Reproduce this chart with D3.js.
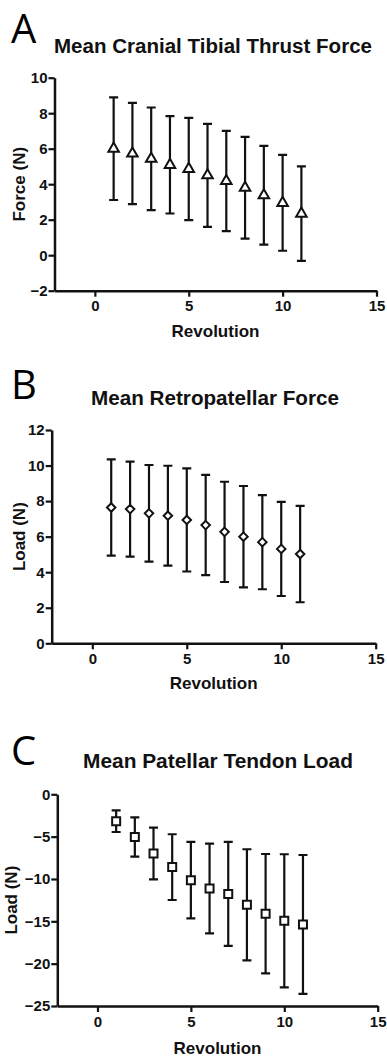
<!DOCTYPE html>
<html>
<head>
<meta charset="utf-8">
<script src="https://cdn.jsdelivr.net/npm/d3@7"></script>
<style>
  body { margin: 0; background: #fff; }
  svg { display: block; }
</style>
</head>
<body>
<div id="chart"></div>
<script>
const revolutions = [1, 2, 3, 4, 5, 6, 7, 8, 9, 10, 11];

// A: cranial tibial thrust force (N), mean and SD
const thrustMean = [6.0, 5.73, 5.43, 5.09, 4.86, 4.5, 4.18, 3.8, 3.38, 2.95, 2.34];
const thrustSD = [2.89, 2.85, 2.89, 2.74, 2.88, 2.9, 2.82, 2.87, 2.78, 2.7, 2.66];

// B: retropatellar force (N)
const retroMean = [7.64, 7.55, 7.31, 7.18, 6.94, 6.65, 6.27, 6.0, 5.69, 5.31, 5.02];
const retroSD = [2.71, 2.67, 2.72, 2.81, 2.9, 2.82, 2.82, 2.85, 2.65, 2.65, 2.71];

// C: patellar tendon load (N)
const tendonMean = [-3.17, -5.04, -6.99, -8.6, -10.14, -11.12, -11.77, -13.05, -14.1, -14.94, -15.37];
const tendonSD = [1.28, 2.32, 3.05, 3.88, 4.51, 5.3, 6.14, 6.56, 7.05, 7.86, 8.2];

const xTicks = [0, 5, 10, 15];
const thrustTicks = [-2, 0, 2, 4, 6, 8, 10];
const retroTicks = [0, 2, 4, 6, 8, 10, 12];
const tendonTicks = [-25, -20, -15, -10, -5, 0];

const width = 387, height = 1057;
const font = "'Liberation Sans', Arial, sans-serif";

const svg = d3.select("#chart").append("svg")
  .attr("width", width)
  .attr("height", height);

const panels = [
  {
    letter: "A", title: "Mean Cranial Tibial Thrust Force", yLabel: "Force (N)",
    mean: thrustMean, sd: thrustSD, yTicks: thrustTicks, symbol: d3.symbolTriangle, size: 48,
    left: 54.5, right: 376.5, top: 77.7, bottom: 290.7,
    letterY: 43, titleX: 213, titleY: 53, titleW: 318, yLabelX: 19, xLabelY: 337
  },
  {
    letter: "B", title: "Mean Retropatellar Force", yLabel: "Load (N)",
    mean: retroMean, sd: retroSD, yTicks: retroTicks, symbol: d3.symbolDiamond2, size: 46,
    left: 51.7, right: 375.7, top: 430, bottom: 643.3,
    letterY: 399, titleX: 215, titleY: 405, titleW: 248, yLabelX: 19, xLabelY: 689
  },
  {
    letter: "C", title: "Mean Patellar Tendon Load", yLabel: "Load (N)",
    mean: tendonMean, sd: tendonSD, yTicks: tendonTicks, symbol: d3.symbolSquare, size: 64,
    left: 57.3, right: 377.7, top: 794.3, bottom: 1006,
    letterY: 765, titleX: 218, titleY: 768, titleW: 270, yLabelX: 11, xLabelY: 1054
  }
];

panels.forEach(function (p) {
  const yMin = d3.min(p.yTicks), yMax = d3.max(p.yTicks);
  const x = d3.scaleLinear().domain([-2.15, 15]).range([p.left, p.right]);
  const y = d3.scaleLinear().domain([yMin, yMax]).range([p.bottom, p.top]);
  const g = svg.append("g");

  // panel letter
  g.append("text")
    .attr("x", 11).attr("y", p.letterY)
    .style("font-family", "'Open Sans', sans-serif")
    .style("font-size", "40px")
    .text(p.letter);

  // title
  g.append("text")
    .attr("x", p.titleX).attr("y", p.titleY)
    .attr("text-anchor", "middle")
    .attr("textLength", p.titleW)
    .attr("lengthAdjust", "spacingAndGlyphs")
    .attr("fill", "#111")
    .style("font-family", font)
    .style("font-weight", "bold")
    .style("font-size", "20px")
    .text(p.title);

  // axes
  const xAxis = g.append("g")
    .attr("transform", `translate(0, ${p.bottom})`)
    .call(d3.axisBottom(x).tickValues(xTicks).tickSize(6).tickSizeOuter(0).tickPadding(4));
  const yAxis = g.append("g")
    .attr("transform", `translate(${p.left}, 0)`)
    .call(d3.axisLeft(y).tickValues(p.yTicks).tickSize(6).tickSizeOuter(0).tickPadding(1));

  [xAxis, yAxis].forEach(function (a) {
    a.attr("font-family", font).attr("font-weight", "bold").attr("font-size", 15);
    a.select(".domain").attr("stroke", "#111").attr("stroke-width", 2.5);
    a.selectAll(".tick line").attr("stroke", "#111").attr("stroke-width", 2.2);
    a.selectAll(".tick text")
      .attr("fill", "#111")
      .style("font-family", font)
      .style("font-weight", "bold")
      .style("font-size", "15px");
  });

  // axis titles
  g.append("text")
    .attr("x", (x(-2.15) + x(15)) / 2).attr("y", p.xLabelY)
    .attr("text-anchor", "middle")
    .style("font-family", font)
    .style("font-weight", "bold")
    .style("font-size", "17px")
    .attr("fill", "#111")
    .text("Revolution");

  g.append("text")
    .attr("transform", `translate(${p.yLabelX}, ${(p.top + p.bottom) / 2}) rotate(-90)`)
    .attr("text-anchor", "middle")
    .attr("dy", "0.35em")
    .style("font-family", font)
    .style("font-weight", "bold")
    .style("font-size", "17px")
    .attr("fill", "#111")
    .text(p.yLabel);

  const data = revolutions.map(function (r, i) {
    return { rev: r, mean: p.mean[i], sd: p.sd[i] };
  });

  // error bars
  const bars = g.append("g")
    .attr("stroke", "#111")
    .attr("stroke-width", 2.2)
    .attr("fill", "none");
  bars.selectAll("path")
    .data(data)
    .join("path")
    .attr("d", function (d) {
      const cx = x(d.rev), hi = y(d.mean + d.sd), lo = y(d.mean - d.sd), c = 4.5;
      return `M${cx},${hi}V${lo}M${cx - c},${hi}H${cx + c}M${cx - c},${lo}H${cx + c}`;
    });

  // markers
  g.append("g").selectAll("path")
    .data(data)
    .join("path")
    .attr("transform", function (d) { return `translate(${x(d.rev)}, ${y(d.mean)})`; })
    .attr("d", d3.symbol().type(p.symbol).size(p.size))
    .attr("fill", "#fff")
    .attr("stroke", "#111")
    .attr("stroke-width", 2);
});
</script>
</body>
</html>
